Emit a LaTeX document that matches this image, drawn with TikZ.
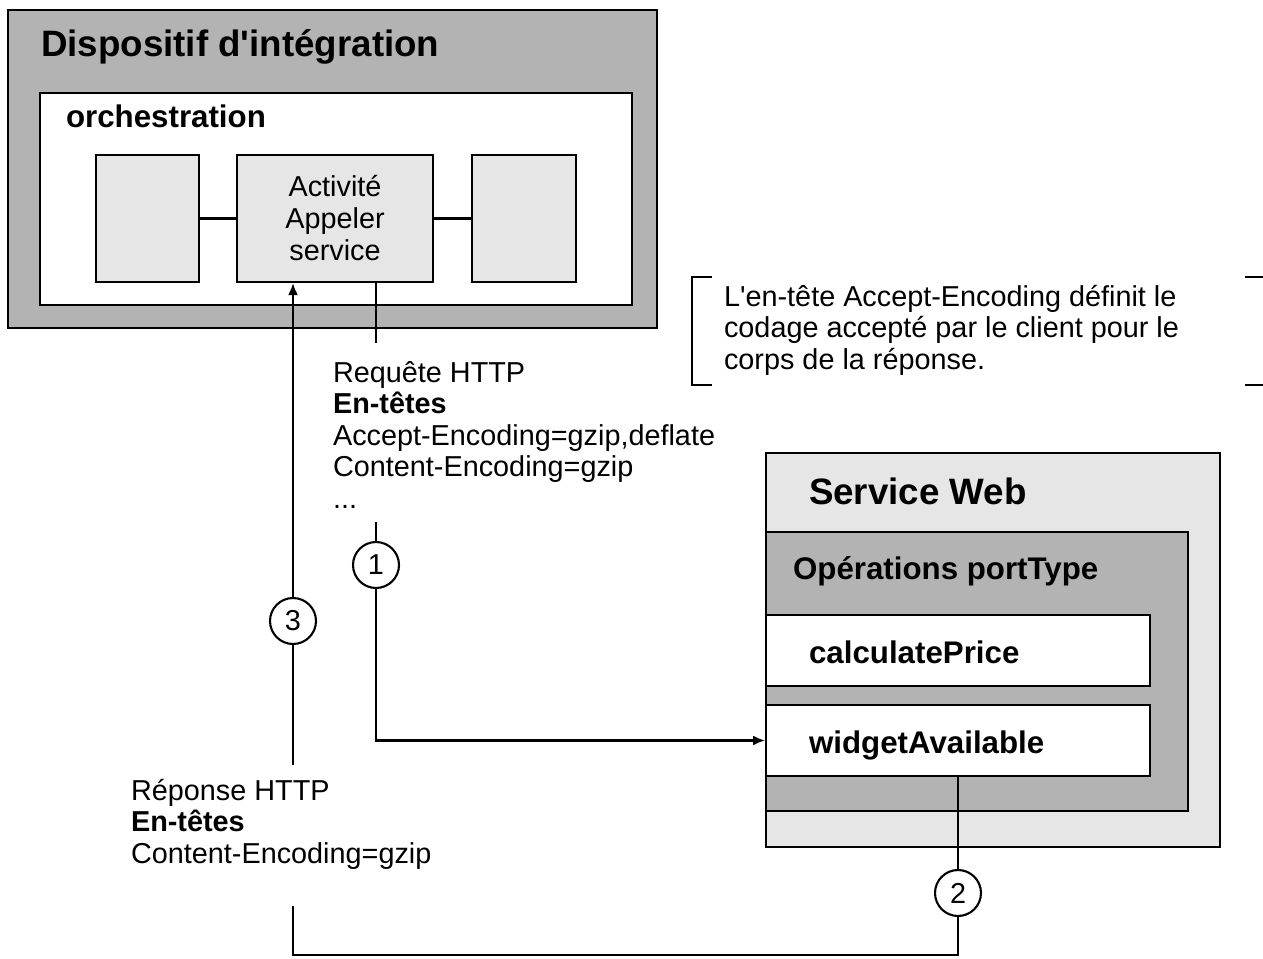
\documentclass[tikz,border=0pt]{standalone}
\usepackage{fontspec}
\setmainfont{Liberation Sans}
\usetikzlibrary{arrows.meta, positioning}
\definecolor{boxdark}{HTML}{B3B3B3}
\definecolor{boxlight}{HTML}{E6E6E6}

\begin{document}
\begin{tikzpicture}[
    x=0.02cm, y=-0.02cm,
    line width=1.2pt,
    box/.style={draw, rectangle, inner sep=0pt},
    darkbox/.style={box, fill=boxdark},
    lightbox/.style={box, fill=boxlight},
    whitebox/.style={box, fill=white},
    title/.style={anchor=base west, inner sep=0pt, font=\fontsize{20.9}{24}\selectfont\bfseries},
    subtitle/.style={anchor=base west, inner sep=0pt, font=\fontsize{17.8}{21}\selectfont\bfseries},
    msg/.style={anchor=base west, inner sep=0pt, align=left, font=\fontsize{16.4}{17.9}\selectfont},
    num/.style={draw, circle, fill=white, minimum size=0.92cm, inner sep=0pt, font=\fontsize{16.4}{18}\selectfont},
    arr/.style={-{Latex[length=2.4mm, width=2mm]}}
]
\useasboundingbox (0,0) rectangle (1263,959);

% Dispositif d'integration
\node[darkbox, minimum width=12.98cm, minimum height=6.36cm] (dev) at (332.5,169) {};
\node[whitebox, minimum width=11.84cm, minimum height=4.24cm] (orch) at (336,199) {};
\node[title] (devtitle) at (40,57) {Dispositif d\textquotesingle intégration};
\node[subtitle] (orchtitle) at (65,128) {orchestration};

% Activities
\node[lightbox, minimum width=2.06cm, minimum height=2.54cm] (blkL) at (147.5,218.5) {};
\node[lightbox, minimum width=3.92cm, minimum height=2.54cm, align=center,
      font=\fontsize{16.4}{18.2}\selectfont] (act) at (335,218.5) {Activité\\Appeler\\service};
\node[lightbox, minimum width=2.08cm, minimum height=2.54cm] (blkR) at (524,218.5) {};
\draw (blkL) -- (act);
\draw (act) -- (blkR);

% Service Web
\node[lightbox, minimum width=9.08cm, minimum height=7.88cm] (ws) at (993,650) {};
\node[darkbox, minimum width=8.44cm, minimum height=5.58cm] (ops) at (977,671.5) {};
\node[whitebox, minimum width=7.68cm, minimum height=1.42cm] (calc) at (958,650.5) {};
\node[whitebox, minimum width=7.68cm, minimum height=1.42cm] (widget) at (958,740.5) {};
\node[title] (wstitle) at (808,504) {Service Web};
\node[subtitle] (opstitle) at (792,579) {Opérations portType};
\node[subtitle] (calctitle) at (808,663) {calculatePrice};
\node[subtitle] (widgettitle) at (808,753) {widgetAvailable};

% Messages (base = last line)
\node[msg] (req) at (332,508) {Requête HTTP\\\textbf{En-têtes}\\Accept-Encoding=gzip,deflate\\Content-Encoding=gzip\\...};
\node[msg] (rsp) at (130,863) {Réponse HTTP\\\textbf{En-têtes}\\Content-Encoding=gzip};

% Note
\node[msg] (note) at (723,369) {L\textquotesingle en-tête Accept-Encoding définit le\\codage accepté par le client pour le\\corps de la réponse.};
\draw (712,277) -- (692,277) -- (692,385) -- (712,385);
\draw (1245,277) -- (1263,277);
\draw (1245,385) -- (1263,385);

% Steps
\node[num] (c1) at (376,565) {1};
\node[num] (c2) at (958,893) {2};
\node[num] (c3) at (293,621) {3};

\coordinate (q1) at (376,343);
\coordinate (q2) at (376,522);
\coordinate (r1) at (293,765);
\coordinate (r2) at (293,906);
\coordinate (r3) at (293,955);

% Request
\draw (act.south -| c1) -- (q1);
\draw (q2) -- (c1);
\draw[arr] (c1) |- (widget.west);

% Response
\draw (widget.south -| c2) -- (c2);
\draw (c2) |- (r3) -- (r2);
\draw (r1) -- (c3);
\draw[arr] (c3) -- (act.south -| c3);

\end{tikzpicture}
\end{document}
